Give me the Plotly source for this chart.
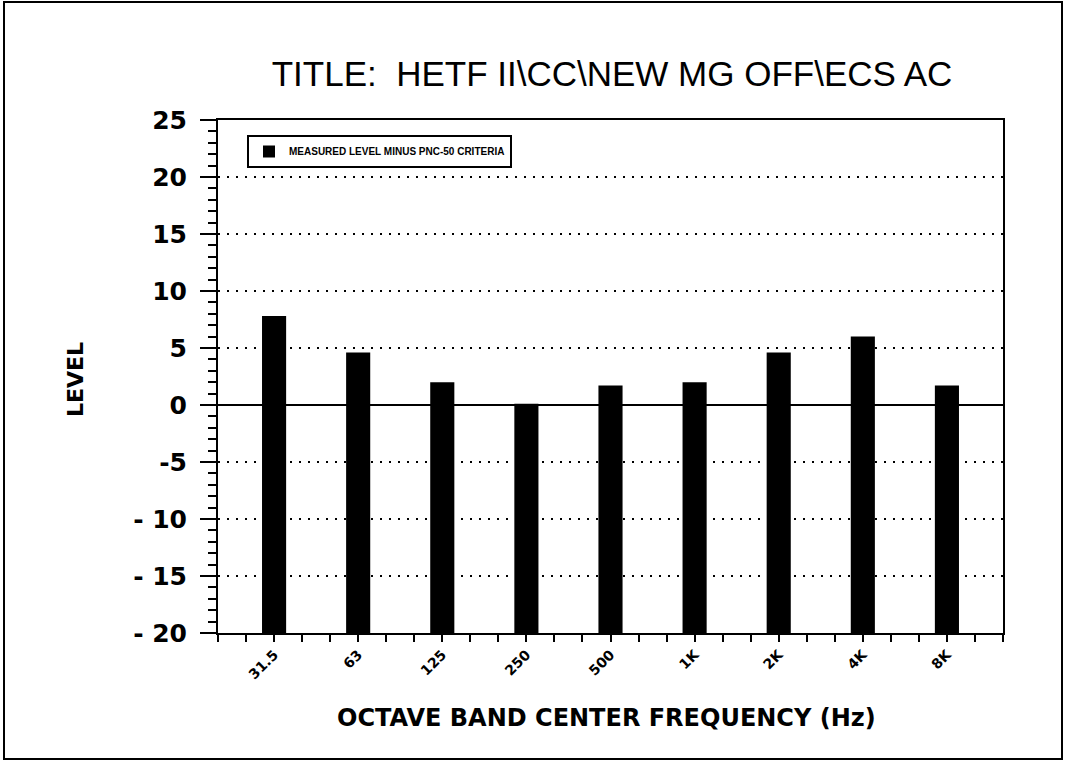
import plotly.graph_objects as go

# ---- data ----
categories = ["31.5", "63", "125", "250", "500", "1K", "2K", "4K", "8K"]
levels = [7.8, 4.6, 2.0, 0.1, 1.7, 2.0, 4.6, 6.0, 1.7]
series_name = "MEASURED LEVEL MINUS PNC-50 CRITERIA"
y_tick_vals = [25, 20, 15, 10, 5, 0, -5, -10, -15, -20]
y_tick_text = ["25", "20", "15", "10", "5", "0", "-5", "- 10", "- 15", "- 20"]
baseline = -20

# ---- layout geometry (pixels) ----
W, H = 1066, 761
L, R, T, B = 218, 1066 - 1003, 120, 761 - 633
PW, PH = W - L - R, H - T - B

def px_x(px):
    return (px - L) / PW

def px_y(py):
    return (H - B - py) / PH

step = 3  # category spacing in x units (minor ticks every unit)
xpos = [i * step for i in range(len(categories))]

fig = go.Figure()
fig.add_trace(go.Bar(
    x=xpos,
    y=[v - baseline for v in levels],
    base=baseline,
    width=0.86,
    marker=dict(color="black", line=dict(width=0)),
    name="<b>" + series_name + "</b>",
    showlegend=True,
))

font_main = "Liberation Sans, Arial, sans-serif"
font_bold = "DejaVu Sans, Liberation Sans, Arial, sans-serif"

fig.update_layout(
    width=W, height=H,
    margin=dict(l=L, r=R, t=T, b=B),
    paper_bgcolor="white", plot_bgcolor="white",
    showlegend=True,
    title=dict(
        text="TITLE:  HETF II\\CC\\NEW MG OFF\\ECS AC",
        x=612 / W, xanchor="center",
        y=1 - 74 / H, yanchor="middle",
        font=dict(family=font_main, size=35, color="black"),
    ),
    legend=dict(
        x=px_x(247), y=px_y(135), xanchor="left", yanchor="top",
        bordercolor="black", borderwidth=2, bgcolor="white",
        font=dict(family=font_main, size=10, color="black"),
        itemsizing="constant",
        tracegroupgap=0,
    ),
    font=dict(family=font_main, color="black"),
)

fig.update_xaxes(
    range=[-2, 8 * step + 2],
    tickmode="array", tickvals=xpos,
    ticktext=["<b>" + c + "</b>" for c in categories],
    tickangle=-45,
    ticks="outside", ticklen=0, tickwidth=2, tickcolor="black",
    tickfont=dict(family=font_bold, size=14, color="black"),
    ticklabelstandoff=6,
    showline=True, linecolor="black", linewidth=2, mirror=True,
    showgrid=False, zeroline=False,
    minor=dict(dtick=1, tick0=0, ticks="outside", ticklen=7, tickwidth=2, tickcolor="black", showgrid=False),
)

fig.update_yaxes(
    range=[-20, 25],
    tickmode="array", tickvals=y_tick_vals,
    ticktext=["<b>" + t + "</b>" for t in y_tick_text],
    ticks="outside", ticklen=16, tickwidth=2, tickcolor="black",
    tickfont=dict(family=font_bold, size=25, color="black"),
    ticklabelstandoff=8,
    showline=True, linecolor="black", linewidth=2, mirror=True,
    showgrid=True, gridcolor="black", gridwidth=2, griddash="2px,7px",
    zeroline=True, zerolinecolor="black", zerolinewidth=2,
    minor=dict(dtick=1, tick0=0, ticks="outside", ticklen=8, tickwidth=2, tickcolor="black", showgrid=False),
)

fig.add_annotation(
    text="<b>LEVEL</b>", textangle=-90,
    xref="paper", yref="paper", x=px_x(75), y=px_y(380),
    xanchor="center", yanchor="middle", showarrow=False,
    font=dict(family=font_bold, size=22, color="black"),
)
fig.add_annotation(
    text="<b>OCTAVE BAND CENTER FREQUENCY (Hz)</b>",
    xref="paper", yref="paper", x=px_x(606), y=px_y(718),
    xanchor="center", yanchor="middle", showarrow=False,
    font=dict(family=font_bold, size=24, color="black"),
)

# outer frame
fig.add_shape(
    type="rect", xref="paper", yref="paper",
    x0=px_x(4), x1=px_x(1062), y0=px_y(759), y1=px_y(2),
    line=dict(color="black", width=2), fillcolor="rgba(0,0,0,0)", layer="below",
)

fig.write_html(
    "out.html",
    config={"displayModeBar": False},
    post_script="document.body.style.margin='0';",
)
